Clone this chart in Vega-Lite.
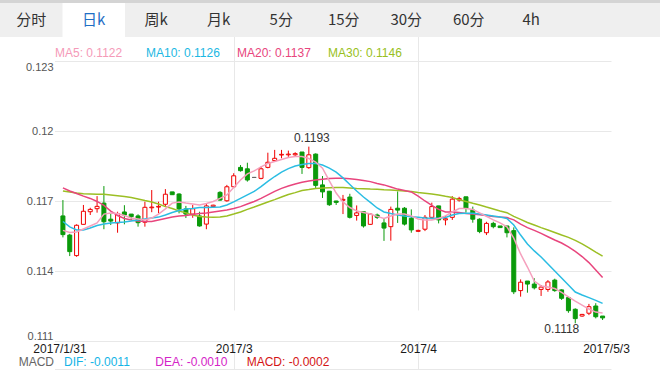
{
"$schema":"https://vega.github.io/schema/vega-lite/v6.json",
"width":660,"height":371,"autosize":"none","padding":0,"background":"#ffffff",
"config":{"view":{"stroke":null},"font":"Liberation Sans"},
"datasets":{
"k":[
{"d":"2017-01-31","i":0,"o":0.11636,"h":0.11704,"l":0.11544,"c":0.11556,"m5":0.11574,"m10":0.11612,"m20":0.11756,"m30":0.11743},
{"d":"2017-02-01","i":1,"o":0.11554,"h":0.11559,"l":0.11464,"c":0.11483,"m5":0.11565,"m10":0.11589,"m20":0.11743,"m30":0.11739},
{"d":"2017-02-02","i":2,"o":0.11466,"h":0.11600,"l":0.11461,"c":0.11596,"m5":0.11567,"m10":0.11576,"m20":0.11732,"m30":0.11734},
{"d":"2017-02-03","i":3,"o":0.11600,"h":0.11683,"l":0.11600,"c":0.11656,"m5":0.11580,"m10":0.11576,"m20":0.11721,"m30":0.11731},
{"d":"2017-02-05","i":4,"o":0.11654,"h":0.11671,"l":0.11640,"c":0.11664,"m5":0.11593,"m10":0.11584,"m20":0.11711,"m30":0.11730},
{"d":"2017-02-06","i":5,"o":0.11667,"h":0.11721,"l":0.11650,"c":0.11677,"m5":0.11606,"m10":0.11595,"m20":0.11698,"m30":0.11729},
{"d":"2017-02-07","i":6,"o":0.11691,"h":0.11764,"l":0.11579,"c":0.11611,"m5":0.11644,"m10":0.11601,"m20":0.11681,"m30":0.11729},
{"d":"2017-02-08","i":7,"o":0.11622,"h":0.11647,"l":0.11597,"c":0.11614,"m5":0.11649,"m10":0.11606,"m20":0.11657,"m30":0.11726},
{"d":"2017-02-09","i":8,"o":0.11606,"h":0.11654,"l":0.11564,"c":0.11646,"m5":0.11646,"m10":0.11608,"m20":0.11638,"m30":0.11723},
{"d":"2017-02-10","i":9,"o":0.11653,"h":0.11682,"l":0.11600,"c":0.11640,"m5":0.11638,"m10":0.11610,"m20":0.11625,"m30":0.11719},
{"d":"2017-02-12","i":10,"o":0.11644,"h":0.11644,"l":0.11619,"c":0.11633,"m5":0.11627,"m10":0.11614,"m20":0.11619,"m30":0.11715},
{"d":"2017-02-13","i":11,"o":0.11636,"h":0.11643,"l":0.11590,"c":0.11607,"m5":0.11623,"m10":0.11619,"m20":0.11614,"m30":0.11709},
{"d":"2017-02-14","i":12,"o":0.11609,"h":0.11697,"l":0.11590,"c":0.11673,"m5":0.11619,"m10":0.11623,"m20":0.11612,"m30":0.11702},
{"d":"2017-02-15","i":13,"o":0.11671,"h":0.11747,"l":0.11652,"c":0.11674,"m5":0.11627,"m10":0.11627,"m20":0.11612,"m30":0.11696},
{"d":"2017-02-16","i":14,"o":0.11674,"h":0.11697,"l":0.11647,"c":0.11677,"m5":0.11644,"m10":0.11631,"m20":0.11619,"m30":0.11687},
{"d":"2017-02-17","i":15,"o":0.11686,"h":0.11751,"l":0.11676,"c":0.11729,"m5":0.11666,"m10":0.11640,"m20":0.11625,"m30":0.11676},
{"d":"2017-02-19","i":16,"o":0.11739,"h":0.11739,"l":0.11727,"c":0.11727,"m5":0.11691,"m10":0.11651,"m20":0.11631,"m30":0.11668},
{"d":"2017-02-20","i":17,"o":0.11730,"h":0.11733,"l":0.11647,"c":0.11666,"m5":0.11696,"m10":0.11659,"m20":0.11636,"m30":0.11657},
{"d":"2017-02-21","i":18,"o":0.11666,"h":0.11679,"l":0.11627,"c":0.11644,"m5":0.11691,"m10":0.11666,"m20":0.11638,"m30":0.11649},
{"d":"2017-02-22","i":19,"o":0.11644,"h":0.11683,"l":0.11628,"c":0.11667,"m5":0.11687,"m10":0.11668,"m20":0.11642,"m30":0.11640},
{"d":"2017-02-23","i":20,"o":0.11636,"h":0.11654,"l":0.11590,"c":0.11593,"m5":0.11683,"m10":0.11672,"m20":0.11646,"m30":0.11634},
{"d":"2017-02-24","i":21,"o":0.11601,"h":0.11690,"l":0.11579,"c":0.11679,"m5":0.11689,"m10":0.11672,"m20":0.11649,"m30":0.11631},
{"d":"2017-02-26","i":22,"o":0.11676,"h":0.11684,"l":0.11673,"c":0.11682,"m5":0.11698,"m10":0.11673,"m20":0.11653,"m30":0.11630},
{"d":"2017-02-27","i":23,"o":0.11737,"h":0.11742,"l":0.11701,"c":0.11704,"m5":0.11711,"m10":0.11674,"m20":0.11657,"m30":0.11631},
{"d":"2017-02-28","i":24,"o":0.11701,"h":0.11769,"l":0.11697,"c":0.11761,"m5":0.11726,"m10":0.11683,"m20":0.11661,"m30":0.11636},
{"d":"2017-03-01","i":25,"o":0.11761,"h":0.11819,"l":0.11757,"c":0.11808,"m5":0.11758,"m10":0.11696,"m20":0.11668,"m30":0.11644},
{"d":"2017-03-02","i":26,"o":0.11844,"h":0.11854,"l":0.11826,"c":0.11830,"m5":0.11790,"m10":0.11711,"m20":0.11676,"m30":0.11653},
{"d":"2017-03-03","i":27,"o":0.11838,"h":0.11864,"l":0.11783,"c":0.11790,"m5":0.11816,"m10":0.11726,"m20":0.11687,"m30":0.11664},
{"d":"2017-03-05","i":28,"o":0.11801,"h":0.11803,"l":0.11799,"c":0.11801,"m5":0.11829,"m10":0.11741,"m20":0.11698,"m30":0.11674},
{"d":"2017-03-06","i":29,"o":0.11797,"h":0.11847,"l":0.11793,"c":0.11838,"m5":0.11846,"m10":0.11762,"m20":0.11711,"m30":0.11685},
{"d":"2017-03-07","i":30,"o":0.11844,"h":0.11907,"l":0.11840,"c":0.11866,"m5":0.11861,"m10":0.11784,"m20":0.11726,"m30":0.11696},
{"d":"2017-03-08","i":31,"o":0.11873,"h":0.11919,"l":0.11869,"c":0.11883,"m5":0.11869,"m10":0.11805,"m20":0.11741,"m30":0.11706},
{"d":"2017-03-09","i":32,"o":0.11897,"h":0.11919,"l":0.11883,"c":0.11900,"m5":0.11878,"m10":0.11824,"m20":0.11754,"m30":0.11717},
{"d":"2017-03-10","i":33,"o":0.11898,"h":0.11916,"l":0.11889,"c":0.11901,"m5":0.11886,"m10":0.11839,"m20":0.11764,"m30":0.11728},
{"d":"2017-03-12","i":34,"o":0.11898,"h":0.11909,"l":0.11893,"c":0.11903,"m5":0.11891,"m10":0.11850,"m20":0.11773,"m30":0.11736},
{"d":"2017-03-13","i":35,"o":0.11910,"h":0.11910,"l":0.11816,"c":0.11844,"m5":0.11891,"m10":0.11856,"m20":0.11780,"m30":0.11745},
{"d":"2017-03-14","i":36,"o":0.11843,"h":0.11933,"l":0.11838,"c":0.11898,"m5":0.11882,"m10":0.11861,"m20":0.11786,"m30":0.11749},
{"d":"2017-03-15","i":37,"o":0.11901,"h":0.11904,"l":0.11756,"c":0.11767,"m5":0.11867,"m10":0.11861,"m20":0.11790,"m30":0.11754},
{"d":"2017-03-16","i":38,"o":0.11769,"h":0.11807,"l":0.11713,"c":0.11739,"m5":0.11841,"m10":0.11854,"m20":0.11793,"m30":0.11756},
{"d":"2017-03-17","i":39,"o":0.11742,"h":0.11743,"l":0.11679,"c":0.11684,"m5":0.11786,"m10":0.11841,"m20":0.11796,"m30":0.11757},
{"d":"2017-03-19","i":40,"o":0.11700,"h":0.11701,"l":0.11683,"c":0.11694,"m5":0.11734,"m10":0.11824,"m20":0.11797,"m30":0.11758},
{"d":"2017-03-20","i":41,"o":0.11703,"h":0.11726,"l":0.11644,"c":0.11707,"m5":0.11696,"m10":0.11799,"m20":0.11797,"m30":0.11758},
{"d":"2017-03-21","i":42,"o":0.11717,"h":0.11731,"l":0.11625,"c":0.11630,"m5":0.11672,"m10":0.11771,"m20":0.11795,"m30":0.11756},
{"d":"2017-03-22","i":43,"o":0.11638,"h":0.11681,"l":0.11616,"c":0.11649,"m5":0.11657,"m10":0.11743,"m20":0.11792,"m30":0.11754},
{"d":"2017-03-23","i":44,"o":0.11654,"h":0.11654,"l":0.11586,"c":0.11593,"m5":0.11651,"m10":0.11717,"m20":0.11788,"m30":0.11753},
{"d":"2017-03-24","i":45,"o":0.11600,"h":0.11647,"l":0.11598,"c":0.11644,"m5":0.11644,"m10":0.11694,"m20":0.11783,"m30":0.11751},
{"d":"2017-03-26","i":46,"o":0.11640,"h":0.11646,"l":0.11623,"c":0.11630,"m5":0.11634,"m10":0.11670,"m20":0.11775,"m30":0.11750},
{"d":"2017-03-27","i":47,"o":0.11606,"h":0.11623,"l":0.11529,"c":0.11584,"m5":0.11625,"m10":0.11653,"m20":0.11769,"m30":0.11748},
{"d":"2017-03-28","i":48,"o":0.11590,"h":0.11676,"l":0.11530,"c":0.11664,"m5":0.11636,"m10":0.11646,"m20":0.11760,"m30":0.11747},
{"d":"2017-03-29","i":49,"o":0.11669,"h":0.11741,"l":0.11606,"c":0.11661,"m5":0.11644,"m10":0.11640,"m20":0.11751,"m30":0.11745},
{"d":"2017-03-30","i":50,"o":0.11669,"h":0.11674,"l":0.11595,"c":0.11601,"m5":0.11644,"m10":0.11636,"m20":0.11745,"m30":0.11743},
{"d":"2017-03-31","i":51,"o":0.11626,"h":0.11664,"l":0.11564,"c":0.11576,"m5":0.11636,"m10":0.11633,"m20":0.11739,"m30":0.11741},
{"d":"2017-04-02","i":52,"o":0.11570,"h":0.11577,"l":0.11567,"c":0.11574,"m5":0.11623,"m10":0.11630,"m20":0.11721,"m30":0.11736},
{"d":"2017-04-03","i":53,"o":0.11579,"h":0.11640,"l":0.11571,"c":0.11630,"m5":0.11619,"m10":0.11627,"m20":0.11700,"m30":0.11733},
{"d":"2017-04-04","i":54,"o":0.11630,"h":0.11693,"l":0.11622,"c":0.11676,"m5":0.11619,"m10":0.11626,"m20":0.11681,"m30":0.11730},
{"d":"2017-04-05","i":55,"o":0.11679,"h":0.11679,"l":0.11604,"c":0.11619,"m5":0.11625,"m10":0.11626,"m20":0.11664,"m30":0.11726},
{"d":"2017-04-06","i":56,"o":0.11619,"h":0.11636,"l":0.11596,"c":0.11624,"m5":0.11636,"m10":0.11629,"m20":0.11653,"m30":0.11720},
{"d":"2017-04-07","i":57,"o":0.11630,"h":0.11721,"l":0.11619,"c":0.11708,"m5":0.11653,"m10":0.11640,"m20":0.11653,"m30":0.11715},
{"d":"2017-04-09","i":58,"o":0.11704,"h":0.11718,"l":0.11697,"c":0.11711,"m5":0.11668,"m10":0.11646,"m20":0.11651,"m30":0.11706},
{"d":"2017-04-10","i":59,"o":0.11718,"h":0.11718,"l":0.11650,"c":0.11669,"m5":0.11668,"m10":0.11647,"m20":0.11646,"m30":0.11698},
{"d":"2017-04-11","i":60,"o":0.11661,"h":0.11676,"l":0.11607,"c":0.11622,"m5":0.11664,"m10":0.11647,"m20":0.11644,"m30":0.11690},
{"d":"2017-04-12","i":61,"o":0.11622,"h":0.11626,"l":0.11562,"c":0.11569,"m5":0.11649,"m10":0.11644,"m20":0.11641,"m30":0.11683},
{"d":"2017-04-13","i":62,"o":0.11564,"h":0.11611,"l":0.11554,"c":0.11604,"m5":0.11634,"m10":0.11640,"m20":0.11638,"m30":0.11674},
{"d":"2017-04-14","i":63,"o":0.11604,"h":0.11611,"l":0.11583,"c":0.11590,"m5":0.11619,"m10":0.11636,"m20":0.11634,"m30":0.11666},
{"d":"2017-04-16","i":64,"o":0.11593,"h":0.11593,"l":0.11586,"c":0.11586,"m5":0.11606,"m10":0.11631,"m20":0.11631,"m30":0.11657},
{"d":"2017-04-17","i":65,"o":0.11593,"h":0.11593,"l":0.11544,"c":0.11564,"m5":0.11589,"m10":0.11625,"m20":0.11629,"m30":0.11650},
{"d":"2017-04-18","i":66,"o":0.11573,"h":0.11587,"l":0.11301,"c":0.11311,"m5":0.11541,"m10":0.11597,"m20":0.11619,"m30":0.11634},
{"d":"2017-04-19","i":67,"o":0.11316,"h":0.11364,"l":0.11290,"c":0.11352,"m5":0.11473,"m10":0.11554,"m20":0.11601,"m30":0.11621},
{"d":"2017-04-20","i":68,"o":0.11357,"h":0.11357,"l":0.11307,"c":0.11344,"m5":0.11417,"m10":0.11516,"m20":0.11586,"m30":0.11608},
{"d":"2017-04-21","i":69,"o":0.11344,"h":0.11369,"l":0.11321,"c":0.11328,"m5":0.11357,"m10":0.11486,"m20":0.11574,"m30":0.11597},
{"d":"2017-04-23","i":70,"o":0.11321,"h":0.11340,"l":0.11293,"c":0.11331,"m5":0.11336,"m10":0.11460,"m20":0.11561,"m30":0.11586},
{"d":"2017-04-24","i":71,"o":0.11321,"h":0.11361,"l":0.11311,"c":0.11353,"m5":0.11331,"m10":0.11430,"m20":0.11547,"m30":0.11576},
{"d":"2017-04-25","i":72,"o":0.11361,"h":0.11367,"l":0.11311,"c":0.11316,"m5":0.11325,"m10":0.11400,"m20":0.11533,"m30":0.11565},
{"d":"2017-04-26","i":73,"o":0.11319,"h":0.11321,"l":0.11276,"c":0.11283,"m5":0.11308,"m10":0.11370,"m20":0.11520,"m30":0.11554},
{"d":"2017-04-27","i":74,"o":0.11286,"h":0.11290,"l":0.11221,"c":0.11230,"m5":0.11289,"m10":0.11340,"m20":0.11503,"m30":0.11544},
{"d":"2017-04-28","i":75,"o":0.11236,"h":0.11240,"l":0.11176,"c":0.11196,"m5":0.11271,"m10":0.11310,"m20":0.11484,"m30":0.11531},
{"d":"2017-04-30","i":76,"o":0.11207,"h":0.11216,"l":0.11204,"c":0.11214,"m5":0.11254,"m10":0.11297,"m20":0.11462,"m30":0.11516},
{"d":"2017-05-01","i":77,"o":0.11219,"h":0.11259,"l":0.11211,"c":0.11247,"m5":0.11237,"m10":0.11286,"m20":0.11436,"m30":0.11499},
{"d":"2017-05-02","i":78,"o":0.11250,"h":0.11262,"l":0.11197,"c":0.11204,"m5":0.11224,"m10":0.11274,"m20":0.11404,"m30":0.11481},
{"d":"2017-05-03","i":79,"o":0.11207,"h":0.11207,"l":0.11190,"c":0.11199,"m5":0.11220,"m10":0.11261,"m20":0.11372,"m30":0.11464}
],
"tabs":[{"tab":"分时"},{"tab":"日k"},{"tab":"周k"},{"tab":"月k"},{"tab":"5分"},{"tab":"15分"},{"tab":"30分"},{"tab":"60分"},{"tab":"4h"}],
"ma":[{"k":"MA5","label":"MA5: 0.1122"},{"k":"MA10","label":"MA10: 0.1126"},{"k":"MA20","label":"MA20: 0.1137"},{"k":"MA30","label":"MA30: 0.1146"}],
"macd":[{"k":"DIF","label":"DIF: -0.0011"},{"k":"DEA","label":"DEA: -0.0010"},{"k":"MACD","label":"MACD: -0.0002"}]
},
"layer":[
{
"data":{"name":"k"},
"encoding":{"x":{"field":"i","type":"quantitative","title":null,
 "scale":{"domain":[-0.5,79.5],"range":[54.5,611],"nice":false,"zero":false},
 "axis":{"orient":"bottom","offset":-2,"values":[-0.5,25,52,79.5],
  "labelExpr":"datum.value < 0 ? '2017/1/31' : datum.value < 30 ? '2017/3' : datum.value < 60 ? '2017/4' : '2017/5/3'",
  "labelFlush":true,"labelOverlap":false,"labelFontSize":12,"labelColor":"#1a1a1a","labelPadding":2,
  "grid":true,"gridColor":"#e8e8e8","gridOpacity":{"condition":{"test":"datum.value < 0 || datum.value > 79","value":0},"value":1},
  "ticks":true,"tickSize":-28,"tickColor":"#e8e8e8","tickOpacity":{"condition":{"test":"datum.value < 0 || datum.value > 79","value":0},"value":1},
  "domain":true,"domainColor":"#e8e8e8","title":null}}},
"layer":[
 {"mark":{"type":"rule","strokeWidth":1},
  "encoding":{"y":{"field":"l","type":"quantitative","title":null,
    "scale":{"domain":[0.111,0.123],"range":[341,61],"nice":false,"zero":false},
    "axis":{"orient":"left","offset":-54,"values":[0.111,0.114,0.117,0.12,0.123],"format":"~g","labelFlush":true,"labelOverlap":false,
     "labelFontSize":11,"labelColor":"#555555","labelPadding":1,"grid":true,"gridColor":"#e8e8e8","ticks":false,"domain":false,"title":null}},
   "y2":{"field":"h"},
   "stroke":{"condition":[{"test":"datum.c > datum.o","value":"#f00000"},{"test":"datum.c < datum.o","value":"#0a9a0a"}],"value":"#666666"}}},
 {"mark":{"type":"bar","size":4,"strokeWidth":1},
  "encoding":{"y":{"field":"o","type":"quantitative","title":null},"y2":{"field":"c"},
   "fill":{"condition":[{"test":"datum.c > datum.o","value":"#ffffff"},{"test":"datum.c < datum.o","value":"#0a9a0a"}],"value":"#666666"},
   "stroke":{"condition":[{"test":"datum.c > datum.o","value":"#f00000"},{"test":"datum.c < datum.o","value":"#0a9a0a"}],"value":"#666666"}}},
 {"mark":{"type":"line","color":"#9cbf24","strokeWidth":1.5},"encoding":{"y":{"field":"m30","type":"quantitative","title":null}}},
 {"mark":{"type":"line","color":"#e8457d","strokeWidth":1.5},"encoding":{"y":{"field":"m20","type":"quantitative","title":null}}},
 {"mark":{"type":"line","color":"#2bbde3","strokeWidth":1.5},"encoding":{"y":{"field":"m10","type":"quantitative","title":null}}},
 {"mark":{"type":"line","color":"#f5a0bd","strokeWidth":1.5},"encoding":{"y":{"field":"m5","type":"quantitative","title":null}}},
 {"transform":[{"joinaggregate":[{"op":"max","field":"h","as":"hmax"}]},{"filter":"datum.h == datum.hmax"}],
  "mark":{"type":"text","baseline":"bottom","dy":-2,"dx":3,"fontSize":12,"color":"#333333"},
  "encoding":{"y":{"field":"h","type":"quantitative","title":null},"text":{"field":"h","format":".4f"}}},
 {"transform":[{"joinaggregate":[{"op":"min","field":"l","as":"lmin"}]},{"filter":"datum.l == datum.lmin"}],
  "mark":{"type":"text","baseline":"top","align":"right","dy":1,"dx":4,"fontSize":12,"color":"#333333"},
  "encoding":{"y":{"field":"l","type":"quantitative","title":null},"text":{"field":"l","format":".4f"}}}
]
},
{
"data":{"name":"tabs"},
"layer":[
 {"mark":{"type":"rect","color":"#d4d4d4"},
  "encoding":{"y":{"datum":"strip","type":"nominal","scale":{"type":"band","domain":["strip","tabs"],"range":[-31,37],"paddingInner":0,"paddingOuter":0},"axis":null}}},
 {"mark":{"type":"rect","color":"#efefef"},"encoding":{"y":{"datum":"tabs","type":"nominal"}}},
 {"transform":[{"filter":"datum.tab == '日k'"}],"mark":{"type":"rect","color":"#ffffff"},
  "encoding":{"x":{"field":"tab","type":"nominal","scale":{"type":"band","domain":["分时","日k","周k","月k","5分","15分","30分","60分","4h"],"range":[0,562.5],"paddingInner":0,"paddingOuter":0},"axis":null},
   "y":{"datum":"tabs","type":"nominal"}}},
 {"mark":{"type":"text","font":"Noto Sans CJK SC","fontSize":15},
  "encoding":{"x":{"field":"tab","type":"nominal"},"y":{"datum":"tabs","type":"nominal"},"text":{"field":"tab"},
   "color":{"condition":{"test":"datum.tab == '日k'","value":"#1f6fc5"},"value":"#333333"}}}
]
},
{
"data":{"name":"ma"},
"mark":{"type":"text","align":"left","fontSize":12},
"encoding":{
 "x":{"field":"k","type":"nominal","bandPosition":0,"scale":{"type":"band","domain":["MA5","MA10","MA20","MA30"],"range":[55,419],"paddingInner":0,"paddingOuter":0},"axis":null},
 "y":{"datum":"legend","type":"nominal","scale":{"type":"band","domain":["legend"],"range":[41,65]},"axis":null},
 "text":{"field":"label"},
 "color":{"field":"k","type":"nominal","scale":{"domain":["MA5","MA10","MA20","MA30"],"range":["#f59ab8","#1cb8e3","#e8457d","#98bf21"]},"legend":null}}
},
{
"data":{"name":"macd"},
"layer":[
 {"mark":{"type":"text","align":"left","fontSize":12},
  "encoding":{
   "x":{"field":"k","type":"nominal","bandPosition":0,"scale":{"type":"band","domain":["DIF","DEA","MACD"],"range":[64,338],"paddingInner":0,"paddingOuter":0},"axis":null},
   "y":{"datum":"macd","type":"nominal","scale":{"type":"band","domain":["macd"],"range":[352,372]},"axis":null},
   "text":{"field":"label"},
   "color":{"field":"k","type":"nominal","scale":{"domain":["DIF","DEA","MACD"],"range":["#14b4e6","#d524c8","#d41414"]},"legend":null}}},
 {"transform":[{"filter":"datum.k == 'DIF'"}],
  "mark":{"type":"text","align":"right","dx":-10,"fontSize":12,"color":"#666666","text":"MACD"},
  "encoding":{"x":{"field":"k","type":"nominal","bandPosition":0},"y":{"datum":"macd","type":"nominal"}}}
]
}
],
"resolve":{"scale":{"x":"independent","y":"independent","color":"independent"}}
}
